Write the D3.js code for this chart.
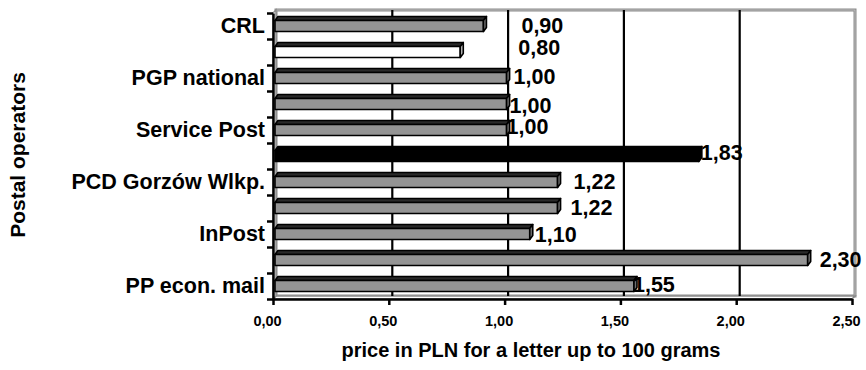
<!DOCTYPE html>
<html>
<head>
<meta charset="utf-8">
<script src="https://cdn.jsdelivr.net/npm/d3@7"></script>
<style>
  html, body { margin: 0; padding: 0; background: #fff; }
  svg { display: block; }
  text { font-family: "Liberation Sans", Arial, sans-serif; font-weight: bold; fill: #000; }
</style>
</head>
<body>
<svg id="chart" width="866" height="370"></svg>
<script>
// Letter prices of postal operators (PLN, letter up to 100 g), top to bottom
const categories = ["CRL", "", "PGP national", "", "Service Post", "", "PCD Gorzów Wlkp.", "", "InPost", "", "PP econ. mail"];
const prices = [0.90, 0.80, 1.00, 1.00, 1.00, 1.83, 1.22, 1.22, 1.10, 2.30, 1.55];
const xTicks = [0, 0.5, 1, 1.5, 2, 2.5];

// bar face style per row
const barStyle = ["gray", "white", "gray", "gray", "gray", "black", "gray", "gray", "gray", "gray", "gray"];
// value label nudges (px) from the bar end
const labelDx = [35, 55, 4, 0, -3, -1, 13, 10, 2, 9, -4];
const labelDy = [-1, -5, -2, 1, -3.5, -3.5, -0.5, -0.5, 0, -1, -2];

const faces = {
  gray:  { front: "#949494", top: "#2a2a2a", side: "#707070" },
  white: { front: "#ffffff", top: "#2a2a2a", side: "#bdbdbd" },
  black: { front: "#000000", top: "#000000", side: "#000000" }
};

const svg = d3.select("#chart");
const fmt = v => d3.format(".2f")(v).replace(".", ",");

const x = d3.scaleLinear().domain([0, 2.5]).range([273, 852]);
const yEdge = d3.scaleLinear().domain([0, categories.length]).range([13, 299]);
const y = d3.scaleBand().domain(d3.range(categories.length)).range([13, 299]);

// 3D depth offset of the back wall
const DX = 3;
const wallT = 10, wallB = 296, wallL = x(0) + DX, wallR = x(2.5) + DX;

// back wall, left wall and floor
const wall = svg.append("g");
wall.append("rect")
  .attr("x", wallL).attr("y", wallT).attr("width", wallR - wallL).attr("height", wallB - wallT)
  .attr("fill", "#fff").attr("stroke", "#8a8a8a").attr("stroke-width", 3);
wall.append("rect")
  .attr("x", wallL).attr("y", wallT).attr("width", wallR - wallL).attr("height", wallB - wallT)
  .attr("fill", "none").attr("stroke", "#c8c8c8").attr("stroke-width", 0.8);
wall.append("polygon")
  .attr("points", [[x(0), 299], [wallL, wallB], [wallR, wallB], [x(2.5), 299]].join(" "))
  .attr("fill", "#fff").attr("stroke", "#8a8a8a").attr("stroke-width", 1.5);
wall.append("polygon")
  .attr("points", [[x(0), 299], [wallL, wallB], [wallL, wallT], [x(0), 13]].join(" "))
  .attr("fill", "#fff").attr("stroke", "#8a8a8a").attr("stroke-width", 1.5);

// gridlines on the back wall
wall.selectAll("line.grid")
  .data(xTicks.slice(1, -1))
  .join("line")
  .attr("class", "grid")
  .attr("x1", d => x(d) + DX + 0.5).attr("x2", d => x(d) + DX + 0.5)
  .attr("y1", wallT).attr("y2", wallB)
  .attr("stroke", "#000").attr("stroke-width", 2.2);

// 3D bars
const bars = svg.append("g");
const BDX = 3, BDY = 4, FRONT_OFF = 7.5, FRONT_H = 11, SHIFT = 2;
prices.forEach((v, i) => {
  const f = faces[barStyle[i]];
  const x0 = x(0) + SHIFT, x1 = x(v) + SHIFT;
  const ft = y(i) + FRONT_OFF, fb = ft + FRONT_H;
  const g = bars.append("g").attr("stroke", "#000").attr("stroke-width", 1.6).attr("stroke-linejoin", "round");
  g.append("polygon")
    .attr("points", [[x0, ft], [x0 + BDX, ft - BDY], [x1 + BDX, ft - BDY], [x1, ft]].join(" "))
    .attr("fill", f.top);
  g.append("rect")
    .attr("x", x0).attr("y", ft).attr("width", x1 - x0).attr("height", FRONT_H)
    .attr("fill", f.front);
  g.append("polygon")
    .attr("points", [[x1, ft], [x1 + BDX, ft - BDY], [x1 + BDX, fb - BDY], [x1, fb]].join(" "))
    .attr("fill", f.side);
});

// value labels
svg.append("g").selectAll("text")
  .data(prices)
  .join("text")
  .attr("x", (d, i) => x(d) + SHIFT + BDX + labelDx[i])
  .attr("y", (d, i) => y(i) + y.bandwidth() / 2 + labelDy[i])
  .attr("dy", "0.36em")
  .attr("font-size", 21.5)
  .text(d => fmt(d));

// front axes
const xAxis = svg.append("g")
  .attr("transform", "translate(0,299)")
  .call(d3.axisBottom(x).tickValues(xTicks).tickFormat(fmt).tickSize(6).tickSizeOuter(0));
xAxis.select(".domain").attr("stroke", "#000").attr("stroke-width", 2.5);
xAxis.selectAll(".tick line").attr("stroke", "#000").attr("stroke-width", 2.5);
xAxis.selectAll(".tick text")
  .attr("font-size", 14.5).attr("font-family", null)
  .attr("dx", -6).attr("y", 17);

const yTickAxis = svg.append("g")
  .attr("transform", "translate(273,0)")
  .call(d3.axisLeft(yEdge).tickValues(d3.range(categories.length + 1)).tickFormat("").tickSize(6).tickSizeOuter(0));
yTickAxis.select(".domain").attr("stroke", "#000").attr("stroke-width", 2.5);
yTickAxis.selectAll(".tick line").attr("stroke", "#000").attr("stroke-width", 2.5);

const yLabelAxis = svg.append("g")
  .attr("transform", "translate(273,0)")
  .call(d3.axisLeft(y).tickFormat(i => categories[i]).tickSize(0).tickPadding(8));
yLabelAxis.select(".domain").remove();
yLabelAxis.selectAll(".tick text").attr("font-size", 21.5).attr("font-family", null);

// axis titles
svg.append("text")
  .attr("x", 531).attr("y", 357)
  .attr("text-anchor", "middle")
  .attr("font-size", 20)
  .text("price in PLN for a letter up to 100 grams");

svg.append("text")
  .attr("transform", "translate(25,155) rotate(-90)")
  .attr("text-anchor", "middle")
  .attr("font-size", 21)
  .text("Postal operators");
</script>
</body>
</html>
